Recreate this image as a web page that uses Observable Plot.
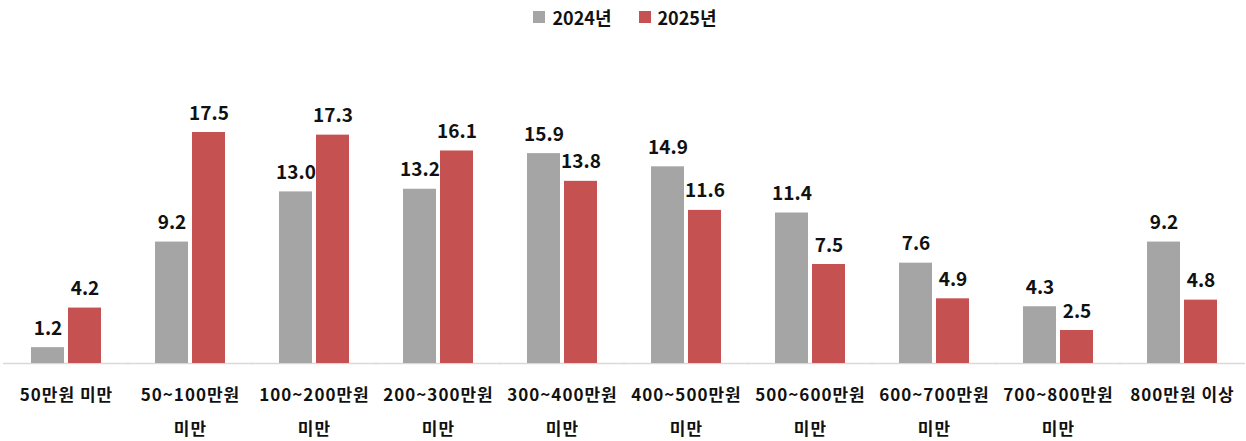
<!DOCTYPE html>
<html><head><meta charset="utf-8">
<script src="https://cdn.jsdelivr.net/npm/d3@7"></script>
<script src="https://cdn.jsdelivr.net/npm/@observablehq/plot@0.6"></script>
<style>
body{margin:0;background:#fff;font-family:"Noto Sans CJK KR","Noto Sans",sans-serif;}
#legend{height:34px;display:flex;justify-content:center;align-items:center;gap:27px;font-weight:700;font-size:18px;color:#111;padding-left:4px;box-sizing:border-box}
#legend span.sw{display:inline-block;width:12px;height:12px;margin-right:7px;vertical-align:middle}
#legend .it{display:flex;align-items:center}
g[aria-label="fx-axis tick label"] text{letter-spacing:1px}
</style></head><body>
<div id="legend"></div>
<div id="chart"></div>
<script>
const categories = ["50만원 미만","50~100만원\n미만","100~200만원\n미만","200~300만원\n미만","300~400만원\n미만","400~500만원\n미만","500~600만원\n미만","600~700만원\n미만","700~800만원\n미만","800만원 이상"];
const series = ["2024년","2025년"];
const values2024 = [1.2,9.2,13.0,13.2,15.9,14.9,11.4,7.6,4.3,9.2];
const values2025 = [4.2,17.5,17.3,16.1,13.8,11.6,7.5,4.9,2.5,4.8];
const colors = ["#a5a5a5","#c55250"];

const data = [];
categories.forEach((c,i)=>{
  data.push({cat:c, s:series[0], v:values2024[i]});
  data.push({cat:c, s:series[1], v:values2025[i]});
});

const leg = document.getElementById("legend");
series.forEach((s,i)=>{
  const d=document.createElement("div");d.className="it";
  d.innerHTML=`<span class="sw" style="background:${colors[i]}"></span>${s}`;
  leg.appendChild(d);
});

const font = '"Noto Sans CJK KR","Noto Sans",sans-serif';
const plot = Plot.plot({
  width:1246, height:407,
  marginLeft:2, marginRight:0, marginTop:65, marginBottom:78,
  style:{fontFamily:font, background:"#fff"},
  fx:{domain:categories, paddingInner:0.42, paddingOuter:0.2, label:null},
  x:{domain:series, paddingInner:0.1, paddingOuter:0, axis:null},
  y:{domain:[0,20], axis:null},
  color:{domain:series, range:colors},
  marks:[
    Plot.ruleY([0],{stroke:"#d9d9d9", strokeWidth:1.5, insetLeft:-27, insetRight:-27}),
    Plot.barY(data,{fx:"cat", x:"s", y:"v", fill:"s"}),
    Plot.text(data,{fx:"cat", x:"s", y:"v", text:d=>d.v.toFixed(1), lineAnchor:"bottom", dy:-13, fontSize:19, fontWeight:700, fill:"#111"}),
    Plot.axisFx({anchor:"bottom", tickSize:0, tickPadding:13, fontSize:17, fontWeight:700, lineHeight:2.0, fill:"#111", label:null})
  ]
});
document.getElementById("chart").appendChild(plot);
</script>
</body></html>
